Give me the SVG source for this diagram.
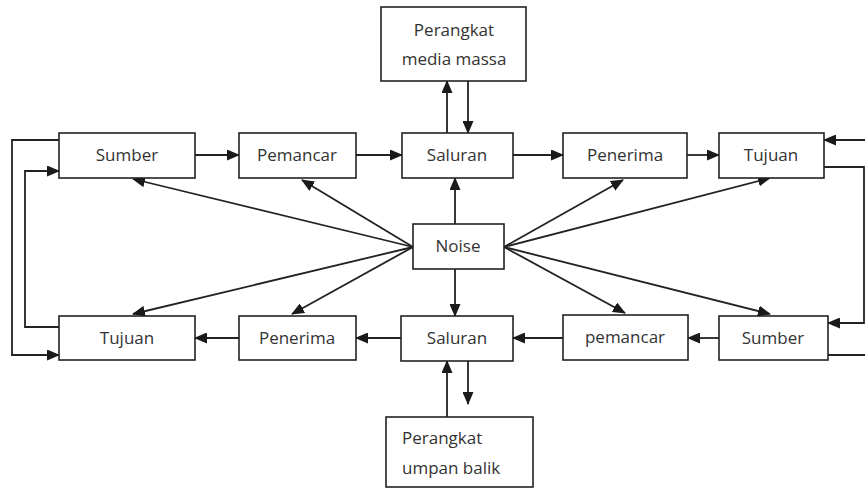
<svg xmlns="http://www.w3.org/2000/svg" width="865" height="489" viewBox="0 0 865 489">
<defs>
<marker id="ah" markerWidth="13" markerHeight="11" refX="12" refY="5.5" orient="auto" markerUnits="userSpaceOnUse">
<path d="M0,0 L13,5.5 L0,11 Z" fill="#1a1a1a"/>
</marker>
</defs>
<style>
.box{fill:#fff;stroke:#222;stroke-width:1.6}
.t{font-family:"Open Sans","Liberation Sans",Arial,sans-serif;font-size:17px;fill:#333;text-anchor:middle}
.tl{font-family:"Open Sans","Liberation Sans",Arial,sans-serif;font-size:17px;fill:#333}
.c{fill:none;stroke:#222;stroke-width:1.8}
.a{fill:none;stroke:#222;stroke-width:1.8;marker-end:url(#ah)}
</style>
<rect width="865" height="489" fill="#fff"/>
<g id="connectors">
<path class="a" d="M195,155 H239"/>
<path class="a" d="M356,155 H402"/>
<path class="a" d="M513,155 H563"/>
<path class="a" d="M687,155 H719"/>
<path class="a" d="M719,338 H688"/>
<path class="a" d="M563,338 H513"/>
<path class="a" d="M401,338 H356"/>
<path class="a" d="M239,338 H195"/>
<path class="a" d="M447,133 V81"/>
<path class="a" d="M468,81 V133"/>
<path class="a" d="M447,417 V361"/>
<path class="a" d="M468,361 V404"/>
<path class="a" d="M455,224 V178"/>
<path class="a" d="M455,269 V316"/>
<path class="a" d="M413,247 L133,179"/>
<path class="a" d="M413,247 L302,180"/>
<path class="a" d="M413,247 L133,314"/>
<path class="a" d="M413,247 L292,314"/>
<path class="a" d="M504,247 L623,180"/>
<path class="a" d="M504,247 L770,178"/>
<path class="a" d="M504,247 L625,313"/>
<path class="a" d="M504,247 L770,314"/>
<path class="a" d="M59,140 H12 V355 H59"/>
<path class="a" d="M59,327 H25 V171 H59"/>
<path class="a" d="M866,140 H824"/>
<path class="a" d="M824,167 H864 V323 H828"/>
<path class="c" d="M828,355 H866"/>
</g>
<g id="perangkat-media"><rect class="box" x="381" y="7" width="145" height="74"/><text class="t" x="454" y="36">Perangkat</text><text class="t" x="454" y="65">media massa</text></g>
<g id="sumber1"><rect class="box" x="59" y="133" width="136" height="45"/><text class="t" x="127" y="161">Sumber</text></g>
<g id="pemancar1"><rect class="box" x="239" y="133" width="117" height="45"/><text class="t" x="297" y="161">Pemancar</text></g>
<g id="saluran1"><rect class="box" x="402" y="133" width="111" height="45"/><text class="t" x="457" y="161">Saluran</text></g>
<g id="penerima1"><rect class="box" x="563" y="133" width="124" height="45"/><text class="t" x="625" y="161">Penerima</text></g>
<g id="tujuan1"><rect class="box" x="719" y="133" width="105" height="45"/><text class="t" x="771" y="161">Tujuan</text></g>
<g id="noise"><rect class="box" x="413" y="224" width="91" height="45"/><text class="t" x="458" y="252">Noise</text></g>
<g id="tujuan2"><rect class="box" x="59" y="316" width="136" height="44"/><text class="t" x="127" y="344">Tujuan</text></g>
<g id="penerima2"><rect class="box" x="239" y="316" width="117" height="44"/><text class="t" x="297" y="344">Penerima</text></g>
<g id="saluran2"><rect class="box" x="401" y="316" width="112" height="45"/><text class="t" x="457" y="344">Saluran</text></g>
<g id="pemancar2"><rect class="box" x="563" y="315" width="125" height="45"/><text class="t" x="625" y="343">pemancar</text></g>
<g id="sumber2"><rect class="box" x="719" y="316" width="109" height="44"/><text class="t" x="773" y="344">Sumber</text></g>
<g id="perangkat-umpan"><rect class="box" x="386" y="417" width="147" height="70"/><text class="tl" x="402" y="444">Perangkat</text><text class="tl" x="402" y="474">umpan balik</text></g>
</svg>
